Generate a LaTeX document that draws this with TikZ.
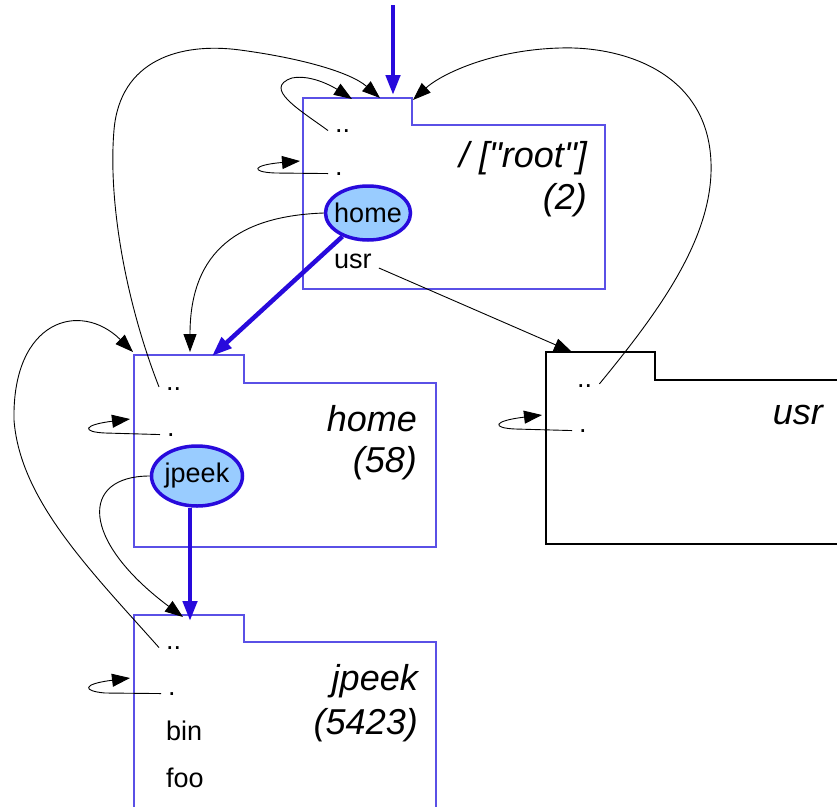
\documentclass[tikz,border=0pt]{standalone}
\usepackage{fontspec}
\setmainfont{Liberation Sans}
\usetikzlibrary{arrows.meta,shapes.geometric}
\definecolor{folderblue}{RGB}{90,80,230}
\definecolor{linkblue}{RGB}{40,10,220}
\definecolor{fillblue}{RGB}{153,204,255}
\tikzset{
  folder/.style={draw=folderblue, line width=1.3pt},
  entry/.style={anchor=base west, inner xsep=7pt, inner ysep=0pt, font=\fontsize{27}{32}\selectfont},
  title/.style={anchor=base east, inner sep=0pt, font=\fontsize{36}{42}\selectfont\itshape},
  dirent/.style={ellipse, draw=linkblue, line width=3.5pt, fill=fillblue, inner sep=0pt, font=\fontsize{27}{32}\selectfont},
  link/.style={-{Triangle[length=18pt,width=13pt]}, line width=0.9pt},
  hard/.style={-{Triangle[length=20pt,width=14pt]}, draw=linkblue, line width=4.5pt},
}
\begin{document}
\begin{tikzpicture}[x=1pt,y=-1pt]
  \clip (0,0) rectangle (837,806);
  % folders
  \draw[folder] (303,98) -- (412,98) -- (412,125) -- (605,125) -- (605,289) -- (303,289) -- cycle;
  \draw[folder] (134,355) -- (244,355) -- (244,383) -- (436,383) -- (436,547) -- (134,547) -- cycle;
  \draw[folder, draw=black] (546,352) -- (655,352) -- (655,380) -- (850,380) -- (850,544) -- (546,544) -- cycle;
  \draw[folder] (134,615) -- (244,615) -- (244,642) -- (436,642) -- (436,820) -- (134,820) -- cycle;

  % root
  \node[title] (rootname) at (587,167) {/ [\textquotedbl root\textquotedbl]};
  \node[title] (rootcount) at (587,209) {(2)};
  \node[entry] (rdd) at (328,132) {..};
  \node[entry] (rd) at (328,175) {.};
  \node[dirent, minimum width=85pt, minimum height=54pt] (rhome) at (368,213) {\makebox[0pt]{home}};
  \node[entry] (rusr) at (327,268) {usr};

  % home
  \node[title] (homename) at (417,431) {home};
  \node[title] (homecount) at (417,472) {(58)};
  \node[entry] (hdd) at (159,390) {..};
  \node[entry] (hd) at (160,436) {.};
  \node[dirent, minimum width=91pt, minimum height=60pt] (hjpeek) at (197,476) {\makebox[0pt]{jpeek}};

  % usr
  \node[title] (usrname) at (823,424) {usr};
  \node[entry] (udd) at (570,387) {..};
  \node[entry] (ud) at (572,432) {.};

  % jpeek
  \node[title] (jpeekname) at (418,690) {jpeek};
  \node[title] (jpeekcount) at (418,734) {(5423)};
  \node[entry] (jdd) at (159,649) {..};
  \node[entry] (jd) at (161,695) {.};
  \node[entry] (jbin) at (159,740) {bin};
  \node[entry] (jfoo) at (159,787) {foo};

  % arrow ends
  \coordinate (start) at (393,5);
  \coordinate (rootin) at (393,95);
  \coordinate (rootself) at (352,99);
  \coordinate (rootup) at (380,98);
  \coordinate (roottab) at (413,100);
  \coordinate (rootdot) at (300,161);
  \coordinate (homein) at (212,356);
  \coordinate (homelink) at (190,352);
  \coordinate (homeup) at (133,352);
  \coordinate (homedot) at (130,419);
  \coordinate (usrin) at (572,352);
  \coordinate (usrdot) at (542,415);
  \coordinate (jpeekin) at (190,621);
  \coordinate (jpeeklink) at (183,617);
  \coordinate (jpeekdot) at (130,678);

  % thick links
  \draw[hard] (start) -- (rootin);
  \draw[hard] (rhome) -- (homein);
  \draw[hard] (hjpeek.south -| jpeekin) -- (jpeekin);

  % thin links
  \draw[link] (rdd.west) .. controls (300,110) and (262,88) .. (292,78)
    .. controls (312,74) and (335,88) .. (rootself);
  \draw[link] (rd.west) -- (275,173) .. controls (250,172) and (252,165) .. (rootdot);
  \draw[link] (hdd.north west) .. controls (125,300) and (108,200) .. (114,130)
    .. controls (120,60) and (180,42) .. (240,50)
    .. controls (300,58) and (350,72) .. (rootup);
  \draw[link] (udd.north east) .. controls (660,310) and (720,230) .. (710,150)
    .. controls (700,70) and (620,46) .. (560,48)
    .. controls (490,50) and (440,75) .. (roottab);
  \draw[link] (rhome.west) .. controls (240,216) and (190,250) .. (homelink);
  \draw[link] (rusr.base east) -- (usrin);
  \draw[link] (hd.west) -- (105,433) .. controls (82,432) and (82,425) .. (homedot);
  \draw[link] (ud.west) -- (515,429) .. controls (492,428) and (492,421) .. (usrdot);
  \draw[link] (jdd.west) .. controls (90,570) and (20,500) .. (14,420)
    .. controls (12,320) and (80,300) .. (homeup);
  \draw[link] (hjpeek.west) .. controls (80,476) and (80,540) .. (jpeeklink);
  \draw[link] (jd.west) -- (105,693) .. controls (82,691) and (82,684) .. (jpeekdot);
\end{tikzpicture}
\end{document}
